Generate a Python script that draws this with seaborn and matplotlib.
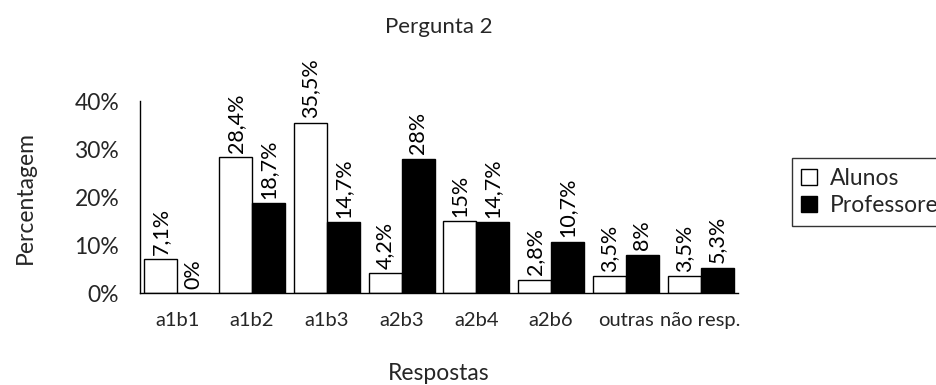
import matplotlib
matplotlib.use("Agg")
import matplotlib.pyplot as plt
import seaborn as sns
import pandas as pd
from matplotlib.patches import Patch

categorias = ["a1b1", "a1b2", "a1b3", "a2b3", "a2b4", "a2b6", "outras", "não resp."]
alunos = [7.1, 28.4, 35.5, 4.2, 15, 2.8, 3.5, 3.5]
professores = [0, 18.7, 14.7, 28, 14.7, 10.7, 8, 5.3]
grupos = ["Alunos", "Professores"]
yticks = [0, 10, 20, 30, 40]

df = pd.DataFrame({
    "Resposta": categorias * 2,
    "Valor": alunos + professores,
    "Grupo": [grupos[0]] * len(categorias) + [grupos[1]] * len(categorias),
})

sns.set_style("white")
plt.rcParams["font.family"] = ["Lato", "DejaVu Sans"]

fig = plt.figure(figsize=(9.36, 3.85), dpi=100)
ax = fig.add_axes([140 / 936, 1 - 293 / 385, (738 - 140) / 936, (293 - 101) / 385])

sns.barplot(data=df, x="Resposta", y="Valor", hue="Grupo", palette=["white", "black"],
            edgecolor="black", linewidth=1, width=0.88, ax=ax, legend=False)

def fmt(v):
    s = f"{v:g}".replace(".", ",")
    return s + "%"

for cont, vals in zip(ax.containers, [alunos, professores]):
    ax.bar_label(cont, labels=[fmt(v) for v in vals], rotation=90, padding=3,
                 fontsize=15.5, color="black")

ax.set_ylim(0, 40)
ax.set_xlim(-0.5, len(categorias) - 0.5)
ax.set_yticks(yticks)
ax.set_yticklabels([f"{t}%" for t in yticks], fontsize=16.5)
ax.set_xticks([i - 0.5 for i in range(len(categorias) + 1)])
ax.set_xticklabels([])
ax.set_xticks(range(len(categorias)), minor=True)
ax.set_xticklabels(categorias, minor=True, fontsize=14.5)
ax.tick_params(axis="x", which="major", direction="out", length=8, width=1, color="black")
ax.tick_params(axis="x", which="minor", length=0, pad=14)
ax.tick_params(axis="y", direction="out", length=7, width=1, color="black", pad=8)

for s in ["top", "right"]:
    ax.spines[s].set_visible(False)
for s in ["left", "bottom"]:
    ax.spines[s].set_color("black")
    ax.spines[s].set_linewidth(1)

ax.set_xlabel("Respostas", fontsize=16.5, labelpad=24)
ax.set_ylabel("Percentagem", fontsize=16.5, labelpad=28)
ax.set_title("Pergunta 2", fontsize=16, pad=49)

handles = [Patch(facecolor="white", edgecolor="black", linewidth=1),
           Patch(facecolor="black", edgecolor="black", linewidth=1)]
leg = fig.legend(handles, grupos, loc="center left", bbox_to_anchor=(792 / 936, 1 - 192 / 385),
                 fontsize=16.5, frameon=True, fancybox=False, handlelength=0.7, handleheight=0.7,
                 handletextpad=0.55, labelspacing=0.3, borderpad=0.4, borderaxespad=0)
leg.get_frame().set_edgecolor("black")
leg.get_frame().set_linewidth(1)

fig.savefig("out.png", dpi=100)
